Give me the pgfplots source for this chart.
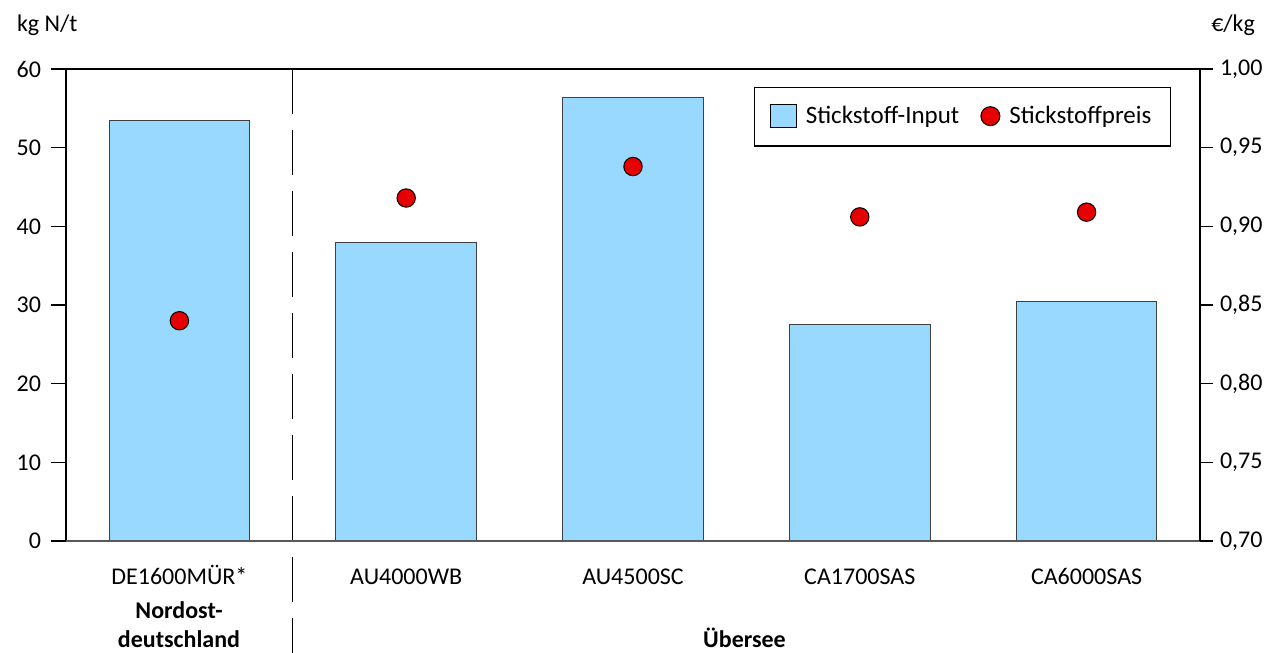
\documentclass[border=0pt]{standalone}
\usepackage{pgfplots}
\pgfplotsset{compat=1.18}
\usepackage{fontspec}
\setmainfont{Carlito}
\definecolor{barblue}{RGB}{153,217,255}
\definecolor{dotred}{RGB}{230,0,0}
\pgfplotstableread{
x val
0 53.4
1 37.9
2 56.4
3 27.5
4 30.5
}\inputdata
\pgfplotstableread{
x val
0 0.840
1 0.918
2 0.938
3 0.906
4 0.909
}\pricedata
\begin{document}
\begin{tikzpicture}[font=\fontsize{12}{14.4}\selectfont]
\path[use as bounding box] (0,0) rectangle (637pt,326.5pt);
\begin{axis}[
  at={(33pt,56pt)}, anchor=south west,
  scale only axis, width=567pt, height=236pt,
  xmin=-0.5, xmax=4.5, ymin=0, ymax=60,
  xtick={0,1,2,3,4},
  xticklabels={DE1600MÜR*,AU4000WB,AU4500SC,CA1700SAS,CA6000SAS},
  major x tick style={draw=none},
  xticklabel style={anchor=base, yshift=-22pt},
  ytick={0,10,20,30,40,50,60},
  ytick pos=left, ytick align=outside, major tick length=7.5pt,
  yticklabel style={xshift=-1.5pt},
  /pgf/number format/assume math mode=true,
  axis line style={black, line width=0.6pt},
  tick style={black, line width=0.6pt},
  clip=false,
]
\addplot[ybar, bar width=0.62, fill=barblue, draw=black!75, line width=0.5pt] table[x=x,y=val] {\inputdata};
\draw[black, line width=0.5pt, dash pattern=on 22.5pt off 8pt] (axis cs:0.5,60) -- ([yshift=-56pt]axis cs:0.5,0);
\draw[black!65, line width=0.7pt] (rel axis cs:0,0) -- (rel axis cs:1,0);
\end{axis}
\begin{axis}[
  at={(33pt,56pt)}, anchor=south west,
  scale only axis, width=567pt, height=236pt,
  xmin=-0.5, xmax=4.5, ymin=0.7, ymax=1.0,
  hide x axis, axis y line*=right,
  ytick={0.70,0.75,0.80,0.85,0.90,0.95,1.00},
  ytick align=outside, major tick length=6.5pt,
  yticklabel style={/pgf/number format/.cd, fixed, fixed zerofill, precision=2, use comma},
  /pgf/number format/assume math mode=true,
  axis line style={black, line width=0.6pt},
  tick style={black, line width=0.6pt},
  legend style={at={(1,1)}, anchor=north east, xshift=-14.5pt, yshift=-9pt,
    draw=black, line width=0.6pt, inner xsep=7.5pt, inner ysep=7.5pt,
    font=\fontsize{12.5}{15}\selectfont,
    /tikz/every odd column/.append style={column sep=2.5pt},
    /tikz/every even column/.append style={column sep=8.5pt}},
  legend columns=2,
  legend cell align=left,
]
\addlegendimage{legend image code/.code={\draw[fill=barblue, draw=black, line width=0.5pt] (0pt,-5.5pt) rectangle (13pt,6pt);}}
\addlegendentry{Stickstoff-Input}
\addplot[only marks, mark=*, mark size=4.6pt, mark options={fill=dotred, draw=black, line width=0.5pt},
  legend image code/.code={\draw[fill=dotred, draw=black, line width=0.5pt] (3.25pt,0.3pt) circle (4.75pt);}] table[x=x,y=val] {\pricedata};
\addlegendentry{Stickstoffpreis}
\end{axis}
\node[anchor=base west] at (5pt,310.5pt) {kg N/t};
\node[anchor=base east] at (631pt,310.5pt) {€/kg};
\node[anchor=base, font=\fontsize{12}{14.4}\selectfont\bfseries] at (89.5pt,17pt) {Nordost-};
\node[anchor=base, font=\fontsize{12}{14.4}\selectfont\bfseries] at (89.5pt,2.5pt) {deutschland};
\node[anchor=base, font=\fontsize{12}{14.4}\selectfont\bfseries] at (372.25pt,2.5pt) {Übersee};
\end{tikzpicture}
\end{document}
